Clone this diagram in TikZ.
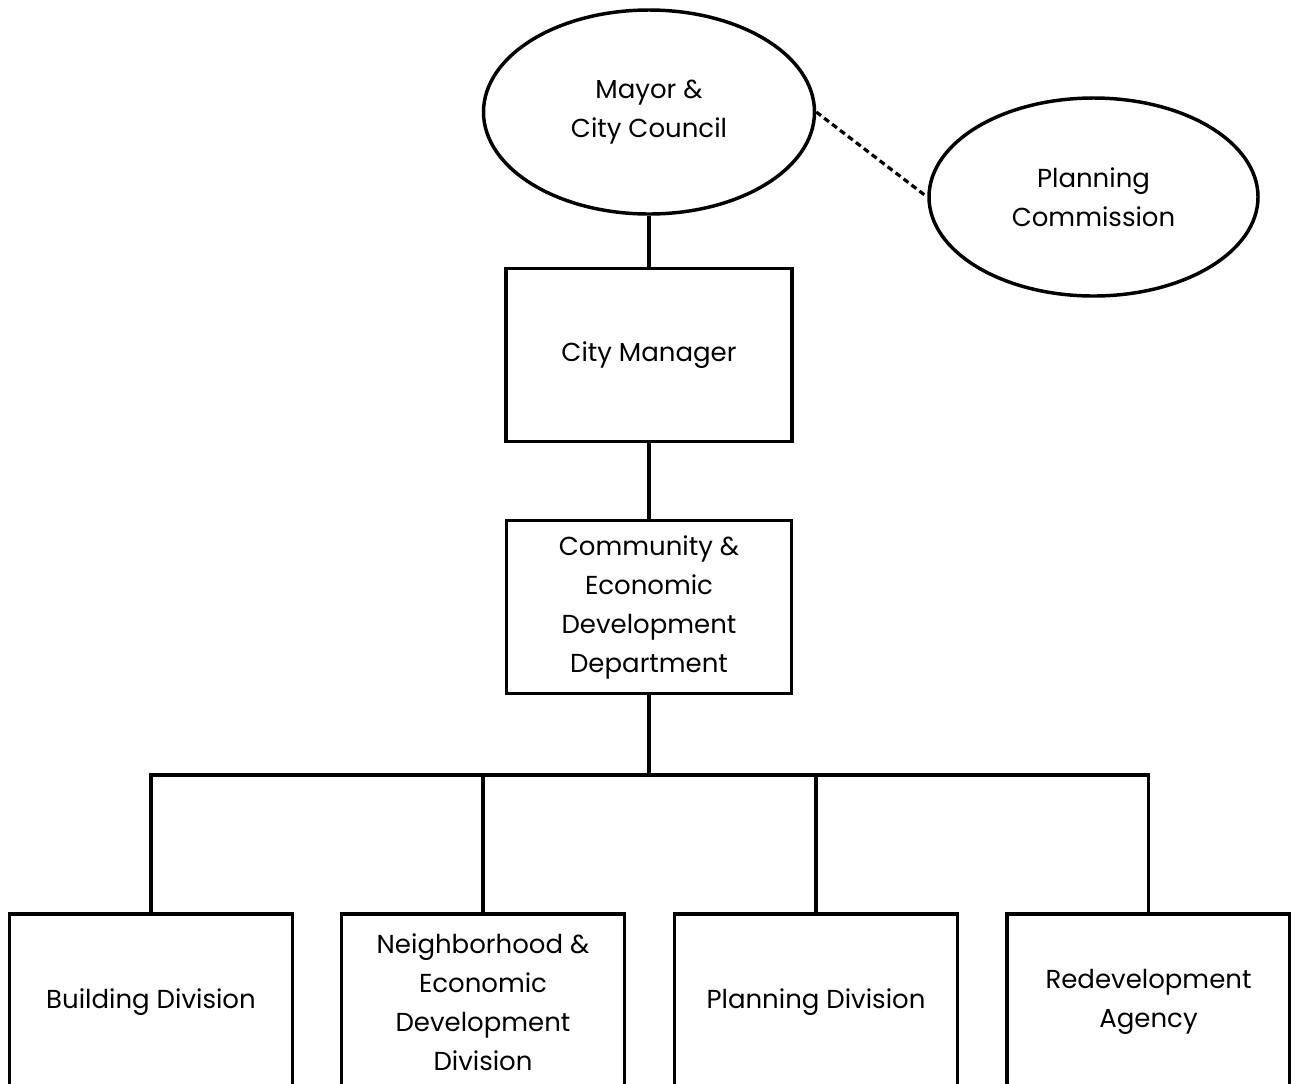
\documentclass[tikz,border=0pt]{standalone}
\usepackage{fontspec}
\setmainfont{Poppins}
\usetikzlibrary{shapes.geometric}
\begin{document}
\begin{tikzpicture}[x=0.75pt,y=-0.75pt,
  every node/.style={font=\fontsize{19.5}{29.25}\selectfont, align=center, inner sep=0pt},
  oval/.style={ellipse, draw, line width=2.6pt},
  box/.style={rectangle, draw, line width=2.6pt},
  conn/.style={line width=2.6pt},
  dotted link/.style={line width=2.4pt, dash pattern=on 4.5pt off 3pt}]
\useasboundingbox (0,0) rectangle (1291,1083);
\clip (0,0) rectangle (1291,1083);
\fill[white] (0,0) rectangle (1291,1083);

\node[oval, minimum width=248.25pt, minimum height=153pt] (mayor) at (649,112) {Mayor \&\\City Council};
\node[oval, minimum width=246.75pt, minimum height=148.5pt] (pc) at (1093.5,197) {Planning\\Commission};
\node[box, minimum width=214.5pt, minimum height=129.75pt] (cm) at (649,355) {City Manager};
\node[box, minimum width=213.75pt, minimum height=129.75pt] (cedd) at (649,607) {Community \&\\Economic\\Development\\Department};

\node[box, minimum width=212.25pt, minimum height=132pt] (b1) at (151,1002) {Building Division};
\node[box, minimum width=212.25pt, minimum height=132pt] (b2) at (483,1002) {Neighborhood \&\\Economic\\Development\\Division};
\node[box, minimum width=212.25pt, minimum height=132pt] (b3) at (816,1002) {Planning Division};
\node[box, minimum width=212.25pt, minimum height=132pt] (b4) at (1148.5,1002) {Redevelopment\\Agency};

\coordinate (bus) at (649,775);

\draw[dotted link] (mayor.east) -- (pc.west);
\draw[conn] (mayor.south) -- (cm.north);
\draw[conn] (cm.south) -- (cedd.north);
\draw[conn] (cedd.south) -- (bus);
\draw[conn] (b1.north) -- (b1.north |- bus) -- (b4.north |- bus) -- (b4.north);
\draw[conn] (b2.north) -- (b2.north |- bus);
\draw[conn] (b3.north) -- (b3.north |- bus);
\end{tikzpicture}
\end{document}
